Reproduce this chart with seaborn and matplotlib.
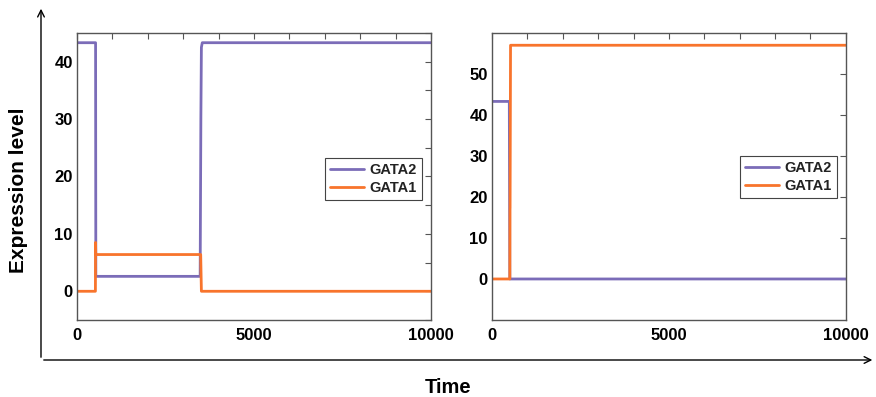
import numpy as np
import pandas as pd
import matplotlib
matplotlib.use("Agg")
import matplotlib.pyplot as plt
import seaborn as sns
from matplotlib.ticker import MultipleLocator

# step-like traces (repeated times give the vertical jumps)
left_gata2_t = [0, 525, 532, 3480, 3500, 3515, 3540, 10000]
left_gata2_v = [43.3, 43.3, 2.6, 2.6, 30, 42.5, 43.3, 43.3]
left_gata1_t = [0, 520, 524, 530, 3495, 3515, 10000]
left_gata1_v = [0, 0, 8.5, 6.4, 6.4, 0, 0]

right_gata2_t = [0, 490, 505, 10000]
right_gata2_v = [43.3, 43.3, 0, 0]
right_gata1_t = [0, 505, 510, 512, 525, 10000]
right_gata1_v = [0, 0, 17, 17.5, 57, 57]

genes = ["GATA2", "GATA1"]
colors = {"GATA2": "#7b6cb8", "GATA1": "#f8742c"}

x_ticks = [0, 5000, 10000]
left_ylim = (-5, 45)
left_yticks = [0, 10, 20, 30, 40]
right_ylim = (-10, 60)
right_yticks = [0, 10, 20, 30, 40, 50]


def long_df(g2_t, g2_v, g1_t, g1_v):
    d2 = pd.DataFrame({"Time": g2_t, "level": g2_v, "gene": "GATA2"})
    d1 = pd.DataFrame({"Time": g1_t, "level": g1_v, "gene": "GATA1"})
    return pd.concat([d2, d1], ignore_index=True)


sns.set_style("white")
plt.rcParams["font.family"] = ["Liberation Sans", "DejaVu Sans"]
plt.rcParams["text.color"] = "black"
plt.rcParams["xtick.labelcolor"] = "black"
plt.rcParams["ytick.labelcolor"] = "black"

fig = plt.figure(figsize=(8.76, 3.97), dpi=100)
ax1 = fig.add_axes([0.0879, 0.194, 0.404, 0.723])
ax2 = fig.add_axes([0.5616, 0.194, 0.404, 0.723])

panels = [
    (ax1, long_df(left_gata2_t, left_gata2_v, left_gata1_t, left_gata1_v), left_ylim, left_yticks, 5, (0.975, 0.566)),
    (ax2, long_df(right_gata2_t, right_gata2_v, right_gata1_t, right_gata1_v), right_ylim, right_yticks, None, (0.975, 0.573)),
]

for ax, df, ylim, yticks, yminor, anchor in panels:
    sns.lineplot(data=df, x="Time", y="level", hue="gene", hue_order=genes,
                 palette=colors, estimator=None, sort=False, linewidth=2, ax=ax)
    ax.set_xlim(0, 10000)
    ax.set_ylim(*ylim)
    ax.set_xticks(x_ticks)
    ax.set_yticks(yticks)
    ax.xaxis.set_minor_locator(MultipleLocator(1000))
    if yminor:
        ax.yaxis.set_minor_locator(MultipleLocator(yminor))
    ax.tick_params(which="both", direction="in", top=True, right=True,
                   length=4, width=0.8, color="#555555", labelsize=12)
    ax.tick_params(axis="x", pad=6)
    ax.tick_params(axis="y", pad=3)
    for lab in ax.get_xticklabels() + ax.get_yticklabels():
        lab.set_fontweight("bold")
    for sp in ax.spines.values():
        sp.set_color("#555555")
        sp.set_linewidth(1)
    ax.set_xlabel("")
    ax.set_ylabel("")
    leg = ax.legend(loc="upper right", bbox_to_anchor=anchor, fancybox=False,
                    frameon=True, edgecolor="#444444",
                    prop={"size": 10.5, "weight": "bold"},
                    handlelength=2.3, borderpad=0.35, labelspacing=0.3,
                    handletextpad=0.4, borderaxespad=0)
    leg.get_frame().set_linewidth(0.8)
    leg.get_frame().set_alpha(1)
    for line in leg.get_lines():
        line.set_linewidth(2)
    for t in leg.get_texts():
        t.set_color("#222222")

# outer axis arrows
arrow_kw = dict(arrowstyle="->", color="black", lw=1, mutation_scale=12)
fig.add_artist(matplotlib.patches.FancyArrowPatch((0.0468, 0.0932), (0.0468, 0.985),
                                                  transform=fig.transFigure, **arrow_kw))
fig.add_artist(matplotlib.patches.FancyArrowPatch((0.0468, 0.0932), (0.999, 0.0932),
                                                  transform=fig.transFigure, **arrow_kw))

fig.text(0.021, 0.521, "Expression level", rotation=90, ha="center", va="center",
         fontsize=15, fontweight="bold")
fig.text(0.511, 0.024, "Time", ha="center", va="center", fontsize=14.5, fontweight="bold")

fig.savefig("out.png", dpi=100)
